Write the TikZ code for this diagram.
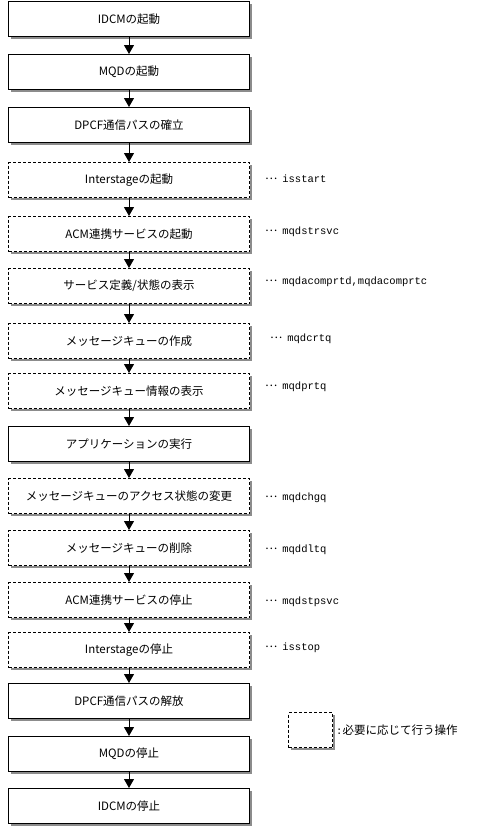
\documentclass[tikz,border=0pt]{standalone}
\usepackage{fontspec}
\setmainfont{Noto Sans CJK JP}
\newfontfamily\cmdfont{Liberation Mono}
\usetikzlibrary{arrows.meta,shadows}
\tikzset{
  stepbox/.style={draw=black, line width=1pt, fill=white, inner sep=0pt,
    minimum width=241pt, minimum height=35pt, anchor=north west,
    font=\fontsize{11.5}{12}\selectfont,
    general shadow={shadow xshift=2pt, shadow yshift=-2pt, fill=black!45}},
  optbox/.style={stepbox, dash pattern=on 3pt off 2pt},
  arr/.style={line width=1pt, -{Triangle[width=10pt,length=9pt]}},
  note/.style={anchor=west, inner sep=0pt, font=\fontsize{11.5}{12}\selectfont}
}
\newcommand{\cmdtext}[1]{\raisebox{3.5pt}{…}\hspace{5pt}{\cmdfont\fontsize{10.5}{12}\selectfont #1}}
\begin{document}
\begin{tikzpicture}[x=1pt,y=-1pt]
\useasboundingbox (0,0) rectangle (488,835);
\node[stepbox] (b1) at (8,1) {IDCMの起動};
\node[stepbox] (b2) at (8,54) {MQDの起動};
\node[stepbox] (b3) at (8,107) {DPCF通信パスの確立};
\node[optbox] (b4) at (8,162) {Interstageの起動};
\node[optbox] (b5) at (8,216) {ACM連携サービスの起動};
\node[optbox] (b6) at (8,268) {サービス定義/状態の表示};
\node[optbox] (b7) at (8,323) {メッセージキューの作成};
\node[optbox] (b8) at (8,373) {メッセージキュー情報の表示};
\node[stepbox] (b9) at (8,426) {アプリケーションの実行};
\node[optbox] (b10) at (8,478) {メッセージキューのアクセス状態の変更};
\node[optbox] (b11) at (8,530) {メッセージキューの削除};
\node[optbox] (b12) at (8,582) {ACM連携サービスの停止};
\node[optbox] (b13) at (8,632) {Interstageの停止};
\node[stepbox] (b14) at (8,683) {DPCF通信パスの解放};
\node[stepbox] (b15) at (8,736) {MQDの停止};
\node[stepbox] (b16) at (8,788) {IDCMの停止};
\foreach \a/\b in {b1/b2,b2/b3,b3/b4,b4/b5,b5/b6,b6/b7,b7/b8,b8/b9,b9/b10,b10/b11,b11/b12,b12/b13,b13/b14,b14/b15,b15/b16}
  \draw[arr] (\a.south) -- (\b.north);
\node[note] (n4) at (265,179) {\cmdtext{isstart}};
\node[note] (n5) at (265,232) {\cmdtext{mqdstrsvc}};
\node[note] (n6) at (265,282) {\cmdtext{mqdacomprtd,mqdacomprtc}};
\node[note] (n7) at (270,339) {\cmdtext{mqdcrtq}};
\node[note] (n8) at (265,387) {\cmdtext{mqdprtq}};
\node[note] (n10) at (265,498) {\cmdtext{mqdchgq}};
\node[note] (n11) at (265,550) {\cmdtext{mqddltq}};
\node[note] (n12) at (265,602) {\cmdtext{mqdstpsvc}};
\node[note] (n13) at (265,648) {\cmdtext{isstop}};
\node[optbox, minimum width=44pt] (leg) at (288,712) {};
\node[note] (legt) at (336,730) {{\cmdfont\fontsize{10.5}{12}\selectfont :}必要に応じて行う操作};
\end{tikzpicture}
\end{document}
